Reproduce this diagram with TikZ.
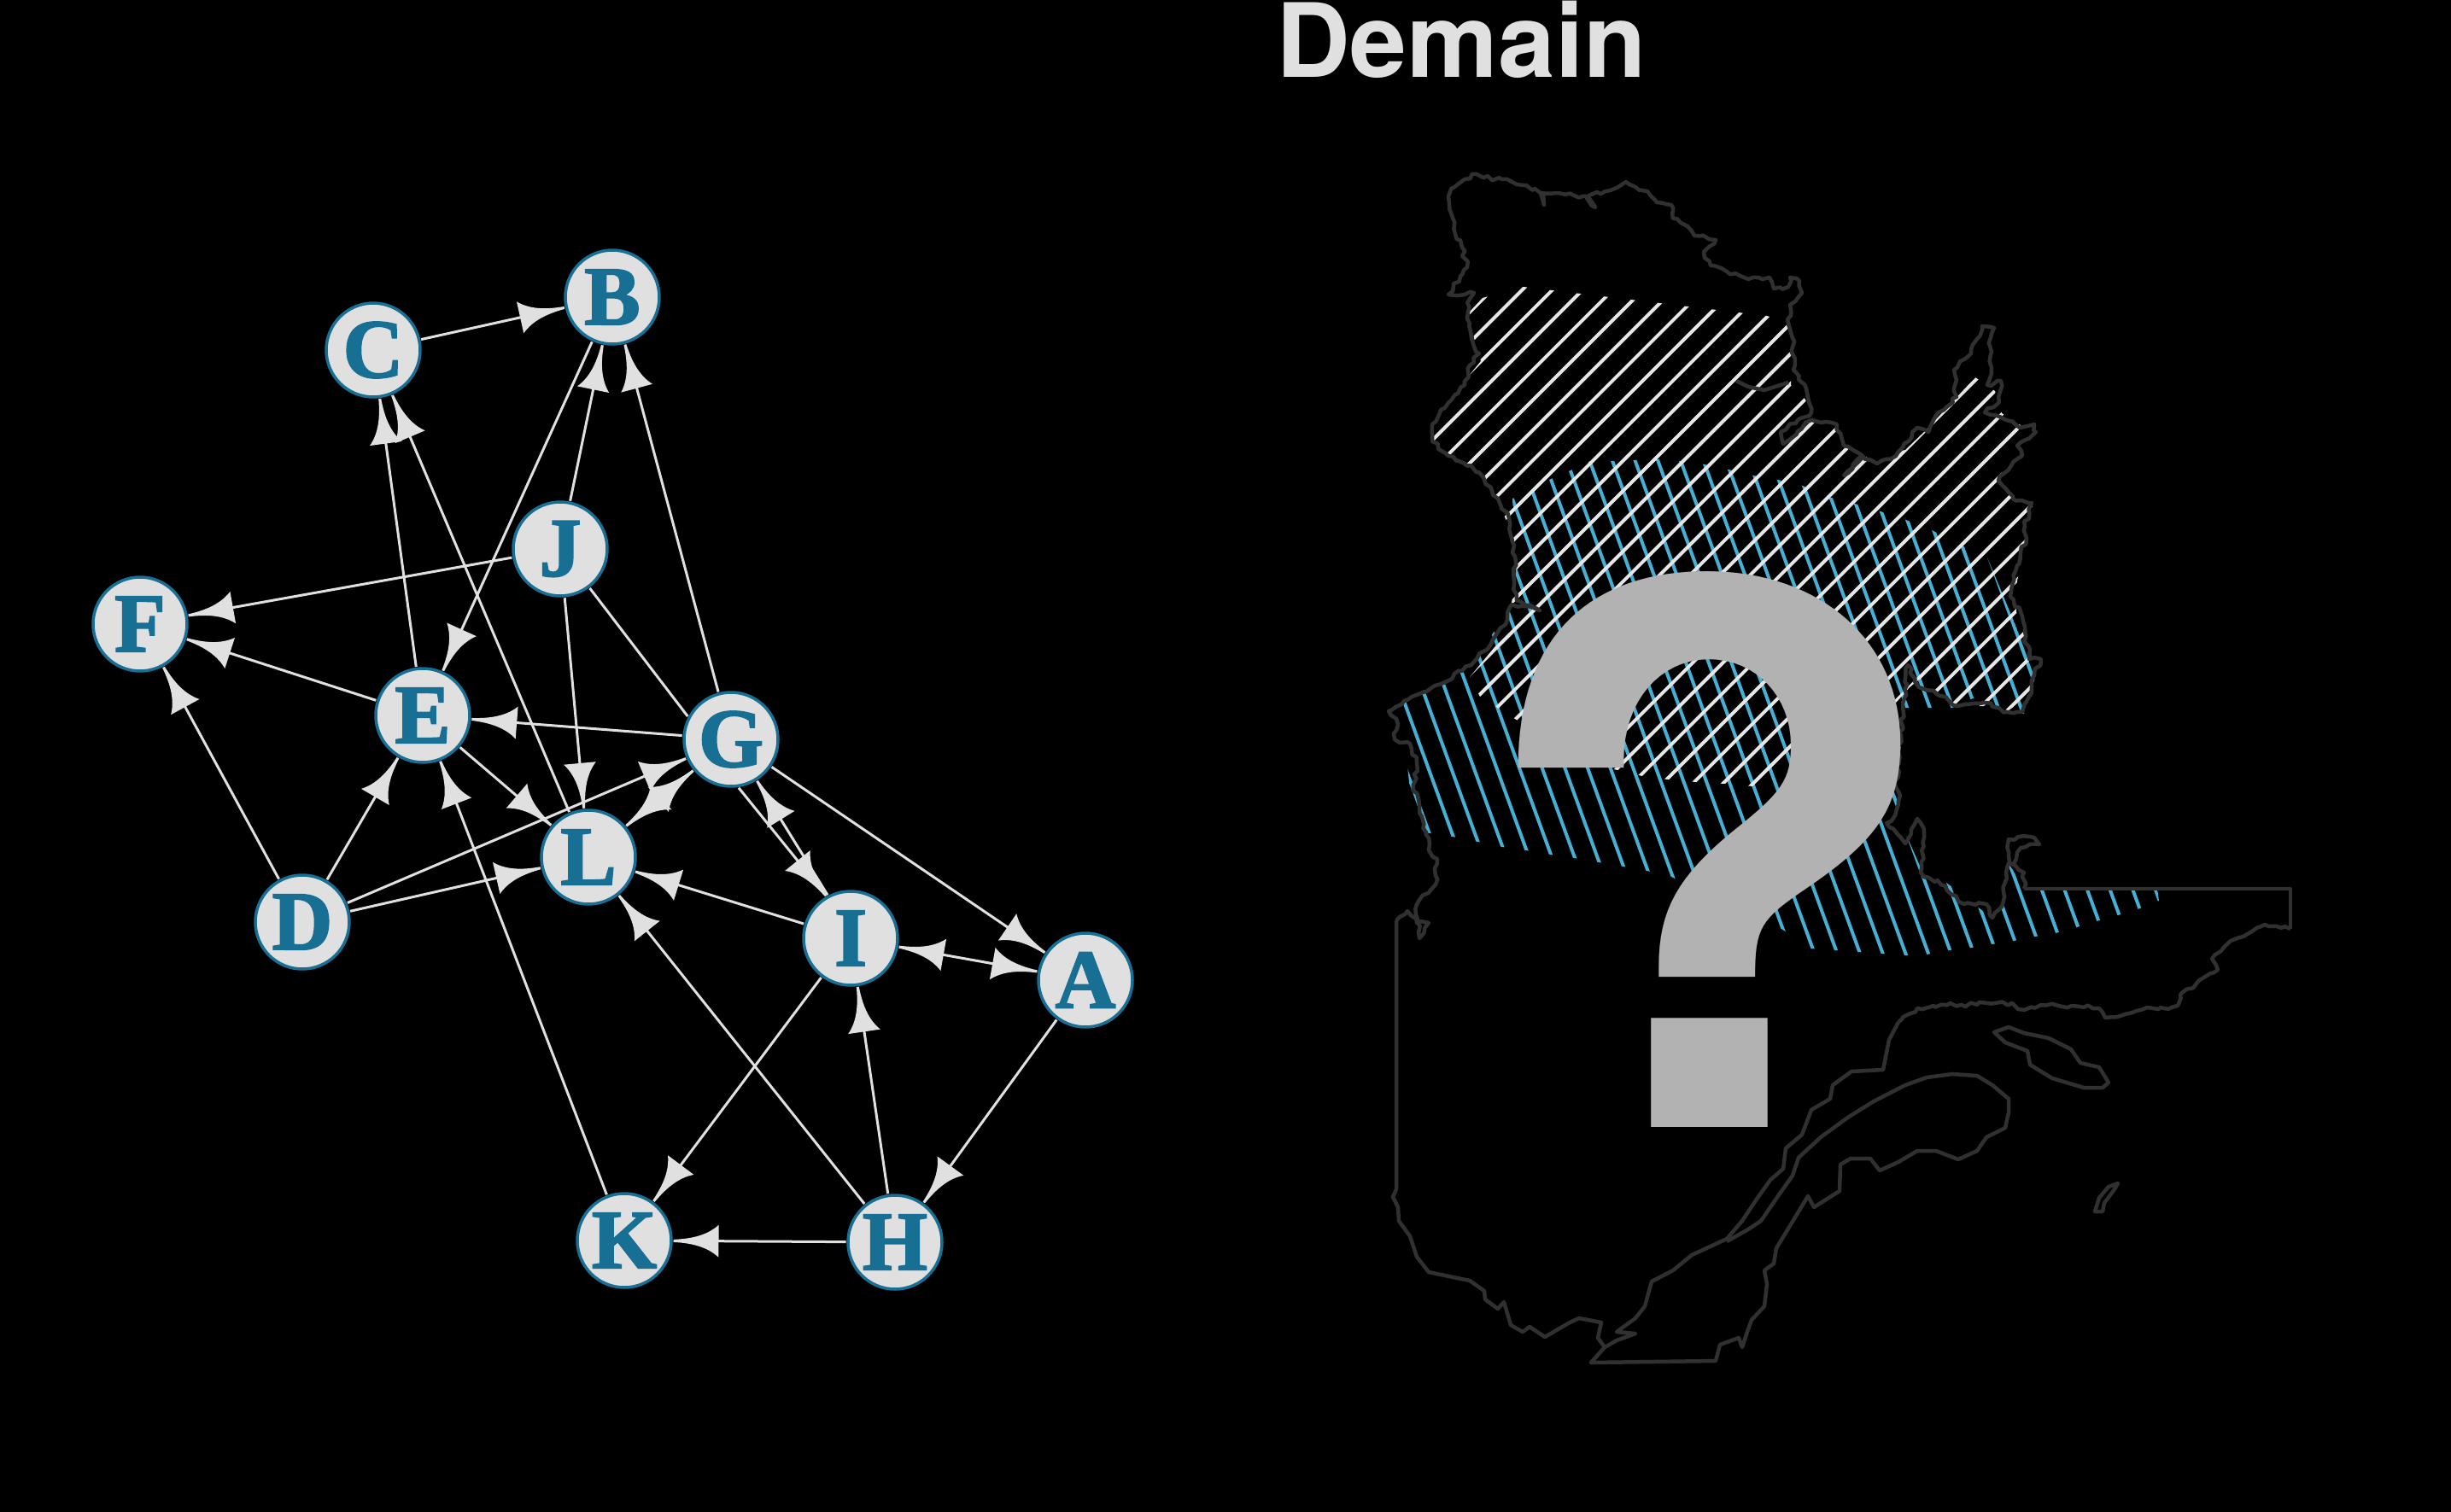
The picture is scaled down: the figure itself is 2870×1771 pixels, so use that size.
\documentclass[tikz,border=0pt]{standalone}
\usepackage{fontspec}
\setmainfont{Liberation Serif}
\newfontfamily\titlefont{TeX Gyre Heros}
\newfontfamily\markfont[FakeStretch=1.04]{TeX Gyre Heros}
\newfontfamily\vertexfont[BoldFeatures={FakeBold=2}]{Liberation Serif}
\usepackage{xcolor}
\usepackage{tikz}
\usetikzlibrary{decorations.pathmorphing}

\definecolor{nodeblue}{HTML}{176F94}
\definecolor{lightgrey}{HTML}{E0E0E0}
\definecolor{mapgrey}{HTML}{303030}
\definecolor{hatchblue}{HTML}{46AFD4}
\definecolor{hatchwhite}{HTML}{E6E6E6}
\definecolor{markgrey}{HTML}{B2B2B2}

\pgfdeclarearrow{
    name = hornhead,
    setup code = {
        \pgfarrowssettipend{0pt}
        \pgfarrowssetbackend{-53pt}
        \pgfarrowssetlineend{-40pt}
        \pgfarrowssetvisualbackend{-40pt}
        \pgfarrowshullpoint{0pt}{0pt}
        \pgfarrowsupperhullpoint{-53pt}{19pt}
    },
    drawing code = {
        \pgfpathmoveto{\pgfqpoint{0pt}{1.5pt}}
        \pgfpathcurveto{\pgfqpoint{-22pt}{2.5pt}}{\pgfqpoint{-40pt}{7pt}}{\pgfqpoint{-53pt}{19pt}}
        \pgfpathlineto{\pgfqpoint{-53pt}{-19pt}}
        \pgfpathcurveto{\pgfqpoint{-40pt}{-7pt}}{\pgfqpoint{-22pt}{-2.5pt}}{\pgfqpoint{0pt}{-1.5pt}}
        \pgfpathclose
        \pgfusepathqfill
    }
}

\tikzset{
    vertex/.style={circle, draw=nodeblue, fill=lightgrey, line width=3.5pt, minimum size=110pt,
        inner sep=0pt, outer sep=2.5pt, text=nodeblue, font=\vertexfont\bfseries\fontsize{98}{98}\selectfont},
    edge/.style={draw=lightgrey, fill=lightgrey, line width=3pt, >=hornhead},
    coast/.style={draw=mapgrey, line width=4.5pt, line join=round},
    roughcoast/.style={coast, decorate, decoration={random steps, segment length=6pt, amplitude=2.5pt}},
    whitehatch/.style={draw=hatchwhite, line width=4pt, line cap=round},
    bluehatch/.style={draw=hatchblue, line width=4pt, line cap=round}
}

\begin{document}
\begin{tikzpicture}[x=1pt, y=-1pt]
    \pgfmathsetseed{7}
    \fill[black] (0,0) rectangle (2870,1771);
    \useasboundingbox (0,0) rectangle (2870,1771);

    \node[font=\titlefont\bfseries\fontsize{120}{120}\selectfont, text=lightgrey, anchor=base, inner sep=0pt] (title) at (1711,91) {Demain};

    % graph
    \node[vertex] (A) at (1271,1148) {A};
    \node[vertex] (B) at (717,348) {B};
    \node[vertex] (C) at (437,410) {C};
    \node[vertex] (D) at (354,1080) {D};
    \node[vertex] (E) at (495,838) {E};
    \node[vertex] (F) at (164,731) {F};
    \node[vertex] (G) at (856,866) {G};
    \node[vertex] (H) at (1048,1455) {H};
    \node[vertex] (I) at (996,1099) {I};
    \node[vertex] (J) at (656,643) {J};
    \node[vertex] (K) at (731,1453) {K};
    \node[vertex] (L) at (689,1004) {L};

    \draw[edge, ->] (C) -- (B);
    \draw[edge, ->] (B) -- (E);
    \draw[edge, ->] (J) -- (B);
    \draw[edge, ->] (G) -- (B);
    \draw[edge, ->] (E) -- (C);
    \draw[edge, ->] (L) -- (C);
    \draw[edge, ->] (J) -- (F);
    \draw[edge, ->] (E) -- (F);
    \draw[edge, ->] (D) -- (F);
    \draw[edge, ->] (J) -- (L);
    \draw[edge] (J.-53) -- (G.152);
    \draw[edge, ->] (G) -- (E);
    \draw[edge, <->] (G) -- (L);
    \draw[edge, ->] (E) -- (L);
    \draw[edge, ->] (D) -- (E);
    \draw[edge, ->] (D) -- (L);
    \draw[edge, ->] (D) -- (G);
    \draw[edge, ->] (K) -- (E);
    \draw[edge, ->] (I) -- (L);
    \draw[edge, ->] (H) -- (L);
    \draw[edge, ->] (G.-81) -- (I.120);
    \draw[edge, ->] (I.118) -- (G.-58);
    \draw[edge, ->] (G) -- (A);
    \draw[edge, <->] (I) -- (A);
    \draw[edge, ->] (A) -- (H);
    \draw[edge, ->] (H) -- (I);
    \draw[edge, ->] (H) -- (K);
    \draw[edge, ->] (I) -- (K);

    % blue hatching
    \begin{scope}
        \clip (1771,584) -- (1793,575) -- (1816,561) -- (1839,551) -- (1862,540) -- (1888,540) -- (1914,539)
            -- (1940,538) -- (1968,540) -- (1996,544) -- (2024,550) -- (2053,557) -- (2082,562) -- (2111,569)
            -- (2141,582) -- (2172,590) -- (2202,599) -- (2232,609) -- (2264,622) -- (2295,638) -- (2327,653)
            -- (2384,790) -- (2370,836) -- (2338,827) -- (2310,818) -- (2286,829) -- (2231,829) -- (2220,924)
            -- (2223,946) -- (2212,959) -- (2233,980) -- (2248,1014) -- (2251,1029) -- (2278,1033) -- (2315,1062)
            -- (2333,1075) -- (2343,1067) -- (2352,1012) -- (2372,1041) -- (2526,1041) -- (2528,1055) -- (2503,1065)
            -- (2480,1072) -- (2455,1079) -- (2432,1086) -- (2407,1093) -- (2383,1097) -- (2358,1102) -- (2332,1106)
            -- (2308,1110) -- (2282,1113) -- (2256,1118) -- (2231,1119) -- (2204,1117) -- (2176,1115) -- (2149,1113)
            -- (2121,1111) -- (2086,1088) -- (1957,1027) -- (1929,1020) -- (1901,1015) -- (1872,1010) -- (1843,1005)
            -- (1816,1001) -- (1787,996) -- (1759,992) -- (1731,986) -- (1701,980) -- (1668,975) -- (1652,935)
            -- (1640,822) -- (1666,809) -- (1689,799) -- (1711,784) -- (1731,766) -- (1748,742) -- (1766,718)
            -- (1775,669) -- cycle;
        \foreach \k [evaluate=\k as \c using 1239+25.05*\k] in {0,...,31} {
            \draw[bluehatch] ({(\c+136.8)/0.9397},400) -- ({(\c+410.4)/0.9397},1200);
        }
    \end{scope}

    % white hatching
    \begin{scope}
        \clip (1736,349) -- (1784,336) -- (2069,370) -- (2096,378) -- (2097,415) -- (2097,451) -- (2114,468)
            -- (2123,495) -- (2152,501) -- (2166,524) -- (2188,537) -- (2231,527) -- (2256,503) -- (2313,442)
            -- (2336,458) -- (2344,484) -- (2366,498) -- (2341,560) -- (2355,581) -- (2380,592) -- (2372,637)
            -- (2362,680) -- (2361,717) -- (2372,741) -- (2379,770) -- (2380,805) -- (2366,822) -- (2352,832)
            -- (2324,827) -- (2288,827) -- (2268,811) -- (2247,796) -- (2236,805) -- (2230,812) -- (2150,900)
            -- (2053,921) -- (2020,918) -- (1986,916) -- (1953,913) -- (1923,909) -- (1894,902) -- (1865,896)
            -- (1841,885) -- (1820,871) -- (1755,830) -- (1733,816) -- (1721,793) -- (1765,740) -- (1770,706)
            -- (1776,667) -- (1773,632) -- (1763,608) -- (1753,582) -- (1738,562) -- (1718,547) -- (1696,535)
            -- (1677,515) -- (1699,470) -- (1716,445) -- (1734,423) -- (1726,396) -- (1720,366) -- cycle;
        \foreach \k [evaluate=\k as \c using 2122+35.355*\k] in {-1,...,31} {
            \draw[whitehatch] ({\c-200},200) -- ({\c-1200},1200);
        }
    \end{scope}

    % map outline
    \draw[roughcoast] (1635,1078) -- (1648,1067) -- (1659,1081) -- (1673,1081)
        -- (1662,1099) -- (1659,1059) -- (1681,1036) -- (1683,1006) -- (1673,996) -- (1670,975) -- (1662,943)
        -- (1655,919) -- (1659,893) -- (1651,871) -- (1633,866) -- (1637,848) -- (1626,833) -- (1644,821)
        -- (1677,805) -- (1712,786) -- (1737,763) -- (1765,726) -- (1770,708) -- (1803,715) -- (1776,703)
        -- (1773,681) -- (1773,639) -- (1767,607) -- (1754,584) -- (1737,559) -- (1715,543) -- (1696,534)
        -- (1677,517) -- (1677,497) -- (1699,469) -- (1715,451) -- (1721,428) -- (1732,414) -- (1723,396)
        -- (1718,373) -- (1721,350) -- (1726,343) -- (1696,345) -- (1712,322) -- (1718,313) -- (1712,290)
        -- (1704,274) -- (1699,249) -- (1696,230) -- (1699,221) -- (1715,210) -- (1729,204) -- (1737,208) -- (1759,210) -- (1776,216)
        -- (1797,221) -- (1804,226) -- (1808,240) -- (1804,226) -- (1825,226) -- (1841,228) -- (1858,230)
        -- (1868,243) -- (1858,232) -- (1880,224) -- (1893,220) -- (1904,213) -- (1915,219) -- (1929,224)
        -- (1940,237) -- (1957,240) -- (1959,256) -- (1976,265) -- (1984,276) -- (2009,281) -- (1995,295)
        -- (2003,311) -- (2022,318) -- (2047,327) -- (2072,325) -- (2077,338) -- (2094,336) -- (2096,325)
        -- (2107,329) -- (2110,343) -- (2096,357) -- (2094,380) -- (2099,396) -- (2102,435) -- (2116,460)
        -- (2121,483) -- (2085,506) -- (2088,520) -- (2121,492) -- (2132,495) -- (2151,497) -- (2159,522)
        -- (2181,534) -- (2159,557) -- (2181,534) -- (2198,543) -- (2220,534) -- (2245,501) -- (2258,506)
        -- (2266,488) -- (2291,465) -- (2288,433) -- (2308,414) -- (2321,382) -- (2335,384) -- (2330,405)
        -- (2332,437) -- (2327,451) -- (2343,446) -- (2338,474) -- (2324,483) -- (2349,492) -- (2365,501)
        -- (2382,497) -- (2384,506) -- (2362,522) -- (2368,534) -- (2354,547) -- (2340,563) -- (2357,584)
        -- (2379,589) -- (2371,616) -- (2373,630) -- (2362,662) -- (2354,699) -- (2368,722) -- (2376,772)
        -- (2390,772) -- (2382,791) -- (2379,805) -- (2368,834) -- (2351,834) -- (2324,823) -- (2291,827)
        -- (2264,809) -- (2247,805) -- (2234,779) -- (2220,922) -- (2225,932) -- (2220,953) -- (2209,964)
        -- (2231,988) -- (2245,959) -- (2253,975) -- (2249,1022) -- (2278,1038) -- (2300,1059) -- (2326,1059)
        -- (2333,1075) -- (2344,1062) -- (2348,1033) -- (2352,998) -- (2352,983) -- (2377,980) -- (2388,989)
        -- (2366,993) -- (2355,1012) -- (2370,1022) -- (2370,1041);
    \draw[coast] (2370,1041) -- (2682,1041) -- (2682,1088);
    \draw[roughcoast] (2682,1088) -- (2652,1083)
        -- (2612,1102) -- (2590,1123) -- (2597,1136) -- (2572,1152) -- (2553,1165) -- (2550,1178) -- (2502,1184)
        -- (2465,1192) -- (2458,1181) -- (2407,1177) -- (2363,1182) -- (2355,1175) -- (2297,1177) -- (2264,1178)
        -- (2245,1181) -- (2223,1197);
    \draw[coast] (2223,1197) -- (2212,1218) -- (2205,1253) -- (2168,1255) -- (2146,1271) -- (2143,1287)
        -- (2121,1300) -- (2110,1329) -- (2091,1345) -- (2088,1369) -- (2073,1382) -- (2058,1403) -- (2040,1430)
        -- (2022,1451) -- (1981,1470) -- (1959,1488) -- (1934,1501) -- (1926,1530) -- (1915,1544) -- (1893,1560)
        -- (1915,1562) -- (1893,1570) -- (1879,1578) -- (1871,1567) -- (1875,1549) -- (1849,1544) -- (1838,1549)
        -- (1809,1566) -- (1791,1554) -- (1783,1560) -- (1769,1552) -- (1761,1525) -- (1754,1533) -- (1739,1522)
        -- (1738,1512) -- (1721,1500) -- (1692,1494) -- (1673,1490) -- (1659,1472) -- (1651,1448) -- (1638,1430)
        -- (1637,1414) -- (1631,1402) -- (1635,1393) -- (1635,1078);
    \draw[coast] (1879,1578) -- (1863,1596) -- (2009,1594) -- (2014,1575) -- (2036,1567) -- (2040,1578)
        -- (2047,1557) -- (2051,1546) -- (2066,1530) -- (2069,1504) -- (2066,1488) -- (2077,1480) -- (2080,1462)
        -- (2117,1401) -- (2124,1414) -- (2154,1395) -- (2155,1364) -- (2167,1357) -- (2190,1357) -- (2201,1371)
        -- (2223,1361) -- (2245,1348) -- (2267,1348) -- (2293,1358) -- (2315,1348) -- (2326,1332) -- (2348,1321)
        -- (2352,1303) -- (2352,1287) -- (2333,1271) -- (2315,1260) -- (2286,1258) -- (2256,1262) -- (2231,1271)
        -- (2194,1290) -- (2165,1308) -- (2132,1332) -- (2106,1356) -- (2099,1377) -- (2084,1398) -- (2062,1430)
        -- (2047,1440) -- (2022,1454);
    \draw[coast] (2033,446) -- (2047,453) -- (2066,457) -- (2094,448);
    \draw[coast] (2335,1209) -- (2352,1203) -- (2370,1210) -- (2399,1216) -- (2425,1229) -- (2436,1245)
        -- (2458,1250) -- (2469,1268) -- (2462,1274) -- (2440,1274) -- (2403,1263) -- (2377,1247) -- (2374,1231)
        -- (2348,1221) -- cycle;
    \draw[coast] (2480,1386) -- (2469,1390) -- (2458,1403) -- (2453,1419) -- (2462,1419) -- (2464,1409) -- (2476,1393) -- cycle;

    \node[font=\markfont\bfseries\fontsize{875}{875}\selectfont, text=markgrey, inner sep=0pt] (mark) at (2001,995) {?};
\end{tikzpicture}
\end{document}
